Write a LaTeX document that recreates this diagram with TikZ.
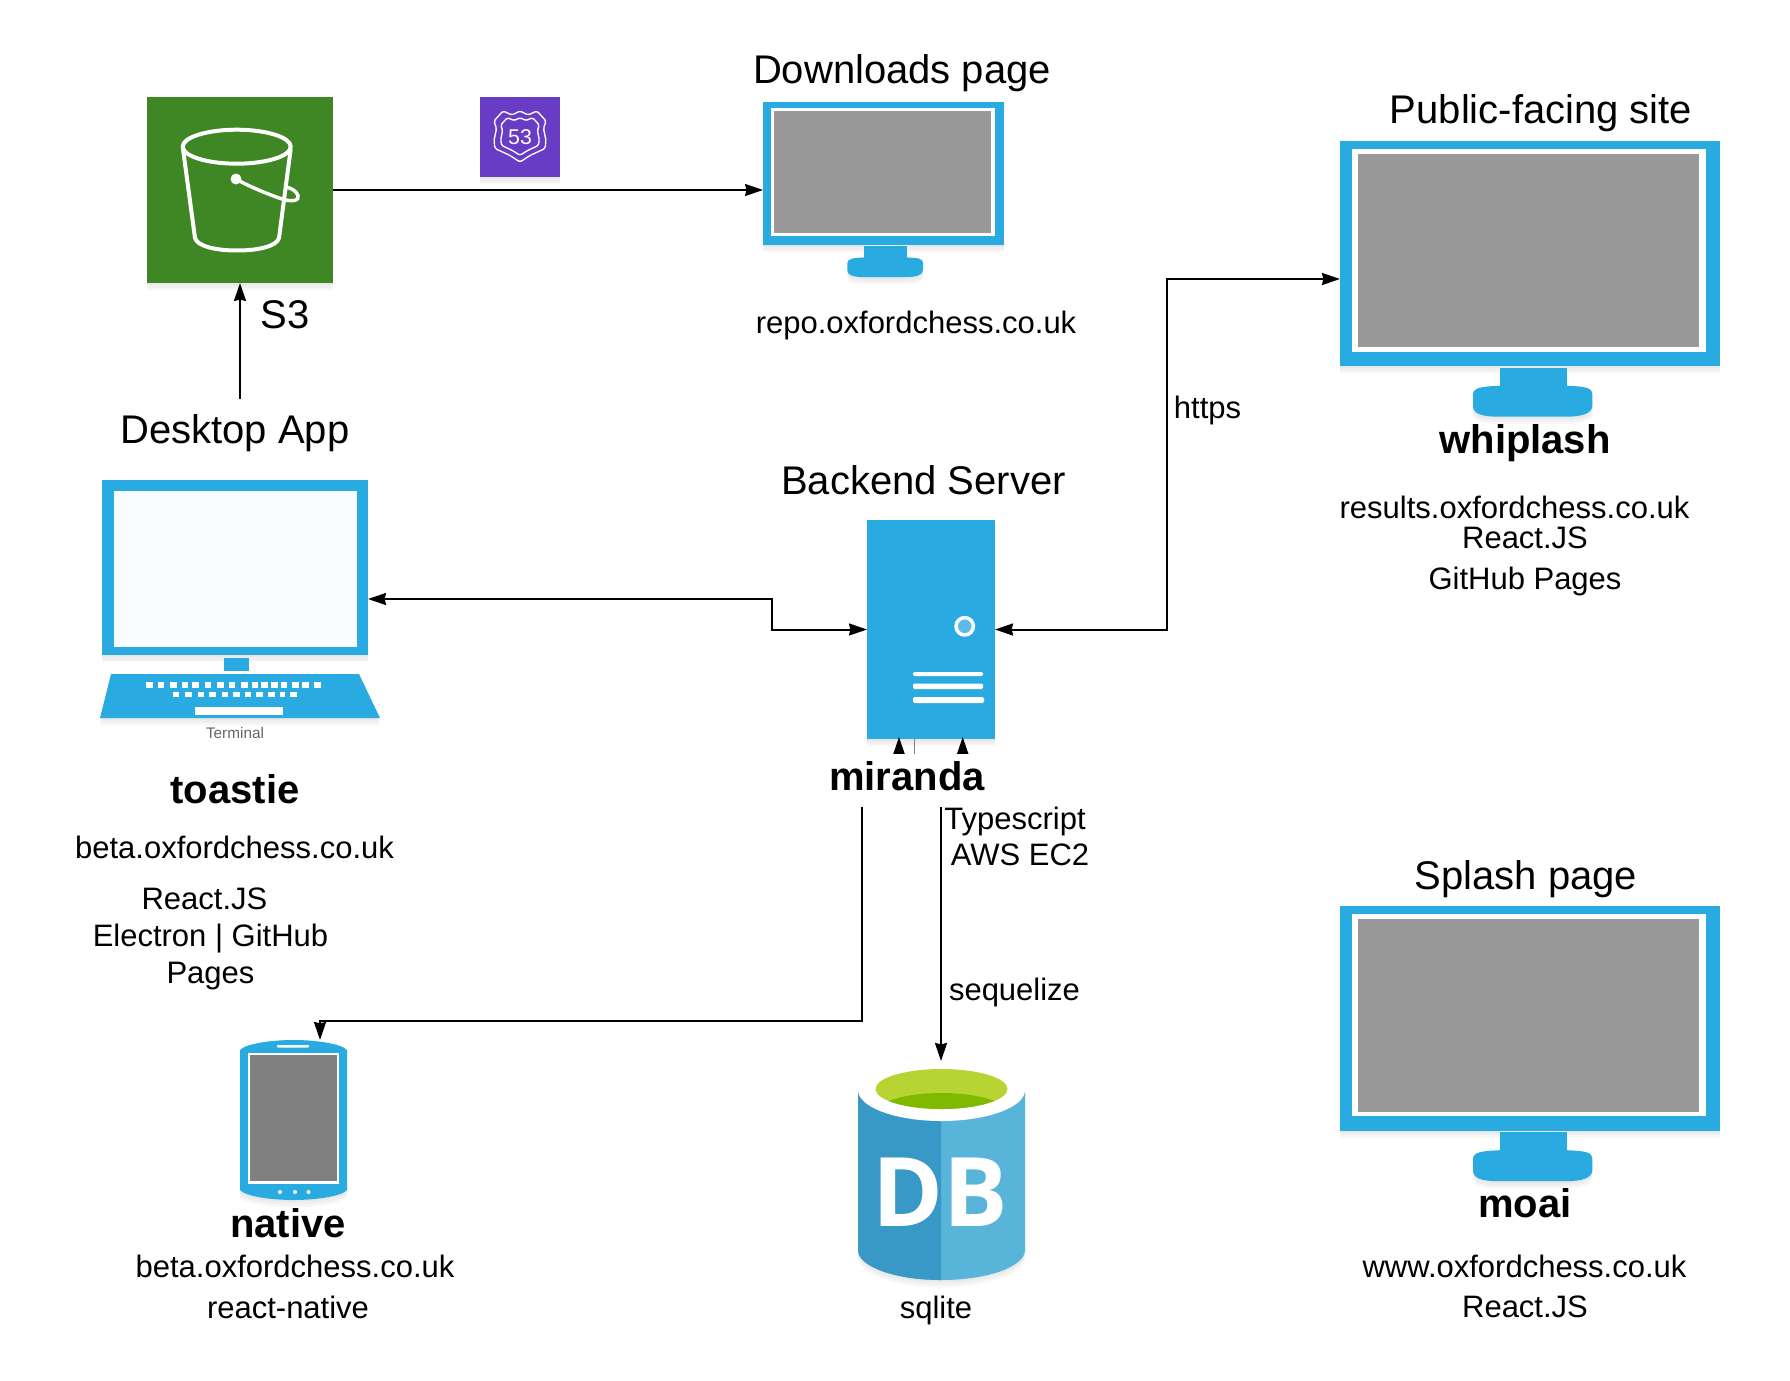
\documentclass[tikz,border=0pt]{standalone}
\usepackage{fontspec}
\setmainfont{Liberation Sans}
\newfontfamily\dbfont{Open Sans}
\usetikzlibrary{arrows.meta}
\usetikzlibrary{shadows}

\definecolor{azureblue}{HTML}{29ABE2}
\definecolor{screengray}{HTML}{999999}
\definecolor{phonegray}{HTML}{808080}
\definecolor{termwhite}{HTML}{F9FDFF}
\definecolor{bucketgreen}{HTML}{3F8624}
\definecolor{routepurple}{HTML}{693CC5}
\definecolor{dbdark}{HTML}{3999C6}
\definecolor{dblight}{HTML}{59B4D9}
\definecolor{dblime}{HTML}{B8D432}
\definecolor{dbgreen}{HTML}{7FBA00}
\definecolor{ledblue}{HTML}{5BBCE8}

\tikzset{
    softshadow/.style={
        general shadow={fill=black, opacity=0.03, shadow yshift=-1.5pt},
        general shadow={fill=black, opacity=0.03, shadow yshift=-3.5pt},
        general shadow={fill=black, opacity=0.03, shadow yshift=-5.5pt}
    },
    icon/.style={rectangle, inner sep=0pt, outer sep=0pt},
    link/.style={draw=black, line width=1.5pt},
    bigtext/.style={font=\fontsize{30}{36}\selectfont},
    smalltext/.style={font=\fontsize{23.25}{27.75}\selectfont, align=center},
    boldtext/.style={font=\fontsize{30}{36}\selectfont\bfseries},
    monitor/.pic={
        \node[icon, fill=azureblue, softshadow, transform shape, minimum width=285pt, minimum height=168.75pt] (-frame) at (0, 0) {};
        \fill[white] (-177.7, -104.2) rectangle (175.7, 98.2);
        \fill[screengray] (-172.3, -99.2) rectangle (169, 93.8);
        \fill[azureblue] (-30, 114) rectangle (36.7, 135);
        \fill[azureblue, softshadow] (-57, 141) .. controls (-57, 134) and (-48, 133) .. (-30, 132.2) -- (37, 132.2) .. controls (55, 133) and (62.3, 134) .. (62.3, 141) -- (62.3, 152) .. controls (62.3, 160) and (52, 163.2) .. (35, 163.2) -- (-30, 163.2) .. controls (-50, 163.2) and (-57, 160) .. (-57, 152) -- cycle;
    }
}

\begin{document}
\begin{tikzpicture}[x=0.75pt, y=-0.75pt, >={Stealth[length=13.5pt, width=9pt, inset=1pt]}]
    \useasboundingbox (0, 0) rectangle (1790, 1380);

    % S3 bucket
    \node[icon, fill=bucketgreen, softshadow, minimum size=139.5pt] (s3) at (240, 190) {};
    \draw[white, line width=3pt] (236.7, 146.7) ellipse [x radius=54, y radius=17];
    \draw[white, line width=3pt, line join=round] (183, 149) -- (195, 238) .. controls (197, 246) and (215, 250.5) .. (237, 250.5) .. controls (259, 250.5) and (277, 246) .. (279, 238) -- (290.7, 149);
    \fill[white] (236, 179) circle (5.5);
    \draw[white, line width=2.6pt] (236, 179) .. controls (250, 187) and (270, 195) .. (282, 199) .. controls (291, 202) and (300, 201) .. (298, 195.5) .. controls (296, 190) and (290, 188) .. (286, 187);

    % Route 53 badge
    \node[icon, fill=routepurple, softshadow, minimum size=60pt] (route53) at (520, 137) {};
    \foreach \s in {1, 0.74} {
        \draw[white, line width=1pt, rounded corners=1.2pt, shift={(520, 136.5)}, scale=\s] (0, -25.5) -- (8, -21.5) -- (17, -25.5) -- (26, -15.5) -- (23.5, -8) -- (26, 4) -- (25, 12) -- (10, 19) -- (0, 25.5) -- (-10, 19) -- (-25, 12) -- (-26, 4) -- (-23.5, -8) -- (-26, -15.5) -- (-17, -25.5) -- (-8, -21.5) -- cycle;
    }
    \node[inner sep=0pt, text=white, font=\fontsize{16}{16}\selectfont] (routeno) at (520, 137) {53};

    % monitors
    \pic[scale=0.634] (downloads) at (883.5, 173.6) {monitor};
    \pic (public) at (1530, 253.5) {monitor};
    \pic (splash) at (1530, 1018) {monitor};

    % desktop terminal
    \node[icon, fill=azureblue, softshadow, minimum width=199.5pt, minimum height=131.25pt] (terminal) at (235, 567.5) {};
    \fill[termwhite] (114, 491) rectangle (357, 647);
    \fill[azureblue] (224, 658) rectangle (249, 671);
    \fill[azureblue, softshadow] (111, 674) -- (359, 674) -- (380, 718) -- (100, 718) -- cycle;
    \foreach \a/\b in {198/219, 234/252, 270/291, 306/324, 336/357, 375/393, 411/432, 447/465, 483/504, 516/534, 543/564, 573/594, 603/621, 636/657, 666/687, 702/723} {
        \fill[white] ({80+\a/3}, 681.5) rectangle ({80+\b/3}, 687.5);
    }
    \foreach \a/\b in {279/297, 315/336, 354/372, 387/408, 426/444, 459/480, 495/513, 528/549, 564/585, 600/615, 630/651} {
        \fill[white] ({80+\a/3}, 691.5) rectangle ({80+\b/3}, 697);
    }
    \fill[white] (195, 707) rectangle (283, 715);
    \node[text=black!60, font=\fontsize{11.5}{13}\selectfont] (termlabel) at (235, 733) {Terminal};

    % backend server
    \node[icon, fill=azureblue, softshadow, minimum width=96pt, minimum height=164.25pt] (server) at (931, 629.5) {};
    \draw[white, line width=2.6pt, fill=ledblue] (964.7, 626.3) circle (8.7);
    \fill[white, rounded corners=1pt] (913, 672) rectangle (983, 676);
    \fill[white, rounded corners=1pt] (913, 683.5) rectangle (983, 689);
    \fill[white, rounded corners=1pt] (913, 697) rectangle (984, 703);

    % phone
    \node[icon, minimum width=80.25pt, minimum height=120pt] (phone) at (293.5, 1120) {};
    \fill[azureblue, softshadow] (240, 1050) .. controls (245, 1044) and (270, 1040) .. (293.5, 1040) .. controls (317, 1040) and (342, 1044) .. (347, 1050) -- (347, 1190) .. controls (342, 1196) and (317, 1200) .. (293.5, 1200) .. controls (270, 1200) and (245, 1196) .. (240, 1190) -- cycle;
    \fill[white] (248, 1053) rectangle (339, 1184);
    \fill[phonegray] (250, 1055) rectangle (337, 1181);
    \fill[white, rounded corners=0.7pt] (277, 1045) rectangle (309, 1047.5);
    \foreach \x in {280, 295, 308.5} {
        \fill[white] (\x, 1192) circle (2);
    }

    % database
    \node[icon, minimum width=125.25pt, minimum height=162pt] (db) at (941.5, 1169) {};
    \fill[dblight, softshadow] (858, 1090) -- (858, 1250) .. controls (858, 1266.6) and (895.4, 1280) .. (941.5, 1280) .. controls (987.6, 1280) and (1025, 1266.6) .. (1025, 1250) -- (1025, 1090) -- cycle;
    \fill[dbdark] (858, 1090) -- (858, 1250) .. controls (858, 1266.6) and (895.4, 1280) .. (941, 1280) -- (941, 1090) -- cycle;
    \fill[white] (941.5, 1090) ellipse [x radius=83.5, y radius=31];
    \fill[dblime] (941.5, 1089) ellipse [x radius=66, y radius=20];
    \begin{scope}
        \clip (941.5, 1089) ellipse [x radius=66, y radius=20];
        \fill[dbgreen] (941.5, 1113) ellipse [x radius=66, y radius=20];
    \end{scope}
    \node[inner sep=0pt, text=white, font=\fontsize{72}{72}\selectfont\dbfont\bfseries] (dbmark) at (940, 1192) {DB};

    % labels that do not sit in the way of a line
    \node[bigtext] (downloadslabel) at (902, 73.5) {Downloads page};
    \node[smalltext] (repolabel) at (916, 325.5) {repo.oxfordchess.co.uk};
    \node[bigtext] (publiclabel) at (1541, 113.5) {Public-facing site};
    \node[boldtext] (whiplashlabel) at (1525, 443.5) {whiplash};
    \node[smalltext] (resultslabel) at (1514.5, 507) {results.oxfordchess.co.uk};
    \node[smalltext] (whipreact) at (1525, 538) {React.JS};
    \node[smalltext] (whipgithub) at (1525, 581.5) {GitHub Pages};
    \node[bigtext] (backendlabel) at (923.5, 480) {Backend Server};
    \node[bigtext] (desktoplabel) at (235, 433.5) {Desktop App};
    \node[bigtext] (s3label) at (285, 315) {S3};
    \node[boldtext] (toastielabel) at (235, 789) {toastie};
    \node[smalltext] (betalabel) at (234.5, 847.5) {beta.oxfordchess.co.uk};
    \node[smalltext] (toastreact) at (204.5, 899) {React.JS};
    \node[smalltext] (toaststack) at (210.5, 956.5) {Electron | GitHub\\Pages};
    \node[smalltext] (httpslabel) at (1207.5, 410.5) {https};
    \node[smalltext] (typelabel) at (1015, 821.5) {Typescript};
    \node[smalltext] (awslabel) at (1020, 855) {AWS EC2};
    \node[smalltext] (sequelizelabel) at (1014.5, 992.5) {sequelize};
    \node[boldtext] (nativelabel) at (288, 1223) {native};
    \node[smalltext] (nativebeta) at (295, 1266) {beta.oxfordchess.co.uk};
    \node[smalltext] (nativereact) at (288, 1307.5) {react-native};
    \node[smalltext] (sqlitelabel) at (936, 1310) {sqlite};
    \node[boldtext] (moailabel) at (1525, 1203.5) {moai};
    \node[smalltext] (wwwlabel) at (1524.5, 1266) {www.oxfordchess.co.uk};
    \node[smalltext] (moaireact) at (1525, 1307) {React.JS};
    \node[bigtext] (splashlabel) at (1526, 879) {Splash page};

    % connectors
    \coordinate (deskport) at (240, 399);
    \coordinate (termport) at (368, 599);
    \coordinate (leftbend) at (772, 599);
    \coordinate (pubport) at (1340, 279);
    \coordinate (rightbend) at (1167, 279);
    \coordinate (nativeport) at (899, 737);
    \coordinate (nativejog) at (862, 780);
    \coordinate (nativedrop) at (320, 1021);
    \coordinate (dbport) at (962.7, 737);
    \coordinate (dbjog) at (941, 780);
    \coordinate (graytick) at (914, 739);

    \draw[link, ->] (s3.east) -- (s3.east -| downloads-frame.west);
    \draw[link, ->] (deskport) -- (s3.south);
    \draw[link, <->] (termport) -- (leftbend) |- (server.west);
    \draw[link, <->] (server.east) -| (rightbend) -- (pubport);
    \draw[link, <->] (nativeport) |- (nativejog) |- (nativedrop) -- (nativedrop |- phone.north);
    \draw[link, <->] (dbport) |- (dbjog) -- (dbjog |- db.north);
    \draw[black!50, line width=0.75pt] (graytick) -- ++(0, 15);

    % this one hides the bends of the two lines below the server
    \node[boldtext, icon, fill=white, minimum width=150pt, minimum height=39.75pt, text height=21.75pt, text depth=6.75pt] (mirandalabel) at (907, 780.5) {miranda};
\end{tikzpicture}
\end{document}
